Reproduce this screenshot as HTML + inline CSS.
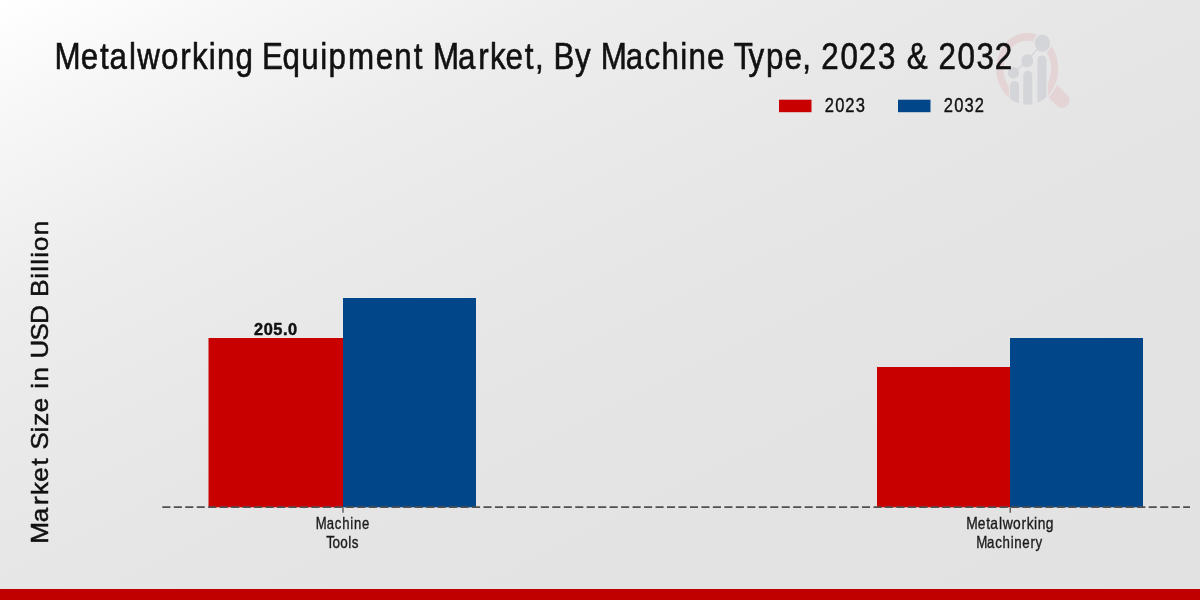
<!DOCTYPE html>
<html>
<head>
<meta charset="utf-8">
<style>
html,body{margin:0;padding:0;width:1200px;height:600px;overflow:hidden;background:#e8e8e8;}
svg{display:block;position:absolute;left:0;top:0;will-change:transform;}
text{font-family:"Liberation Sans",sans-serif;}
</style>
</head>
<body>
<svg width="1200" height="600" viewBox="0 0 1200 600">
  <defs>
    <linearGradient id="bg" gradientUnits="userSpaceOnUse" x1="0" y1="0" x2="480" y2="960">
      <stop offset="0" stop-color="rgb(255,255,255)"/>
      <stop offset="0.05" stop-color="rgb(250.8,250.8,250.8)"/>
      <stop offset="0.1" stop-color="rgb(246.7,246.7,246.7)"/>
      <stop offset="0.175" stop-color="rgb(241.8,241.8,241.8)"/>
      <stop offset="0.25" stop-color="rgb(237.3,237.3,237.3)"/>
      <stop offset="0.375" stop-color="rgb(233.1,233.1,233.1)"/>
      <stop offset="0.5" stop-color="rgb(230.0,230.0,230.0)"/>
      <stop offset="0.625" stop-color="rgb(228.3,228.3,228.3)"/>
      <stop offset="0.75" stop-color="rgb(227.1,227.1,227.1)"/>
      <stop offset="1.0" stop-color="rgb(226.0,226.0,226.0)"/>
    </linearGradient>
    <clipPath id="lc"><ellipse cx="1027.3" cy="68.7" rx="31.06" ry="36"/></clipPath>
  </defs>
  <rect x="0" y="0" width="1200" height="600" fill="url(#bg)"/>

  <!-- watermark logo -->
  <g>
    <line x1="1040" y1="78.3" x2="1062.2" y2="100.5" stroke="#e4d4d6" stroke-width="15" stroke-linecap="round"/>
    <ellipse cx="1027.3" cy="68.7" rx="32.6" ry="37.8" fill="url(#bg)"/>
    <path fill="#e4d4d6" fill-rule="evenodd" d="M996.24,68.7 a31.06,36 0 1 0 62.12,0 a31.06,36 0 1 0 -62.12,0 Z M1003.5,68.7 a23.8,28 0 1 0 47.6,0 a23.8,28 0 1 0 -47.6,0 Z"/>
    <rect x="1009" y="84" width="38.8" height="30" fill="url(#bg)"/>
    <ellipse cx="1042.4" cy="43.2" rx="9.2" ry="10.2" fill="url(#bg)"/>
    <g fill="#d4d5d9" clip-path="url(#lc)">
      <path d="M1010,120 V85.5 a4.5,4.5 0 0 1 9,0 V120 Z"/>
      <path d="M1023.3,120 V75.3 a4.5,4.5 0 0 1 9,0 V120 Z"/>
      <path d="M1037.4,120 V59.9 a4.5,4.5 0 0 1 9,0 V120 Z"/>
    </g>
    <g fill="#d4d5d9">
      <ellipse cx="1013.4" cy="72.9" rx="5.6" ry="5.8"/>
      <ellipse cx="1027.25" cy="60.75" rx="5.95" ry="6.55"/>
      <ellipse cx="1042.4" cy="43.2" rx="7.6" ry="8.6"/>
    </g>
    <polyline points="1013.4,72.9 1027.25,60.75 1042.4,43.2" fill="none" stroke="#d4d5d9" stroke-width="1.2"/>
  </g>

  <!-- title -->
  <text transform="translate(54.62,68.8) scale(0.8467,1)" x="0.00 31.00 53.58 64.76 87.82 97.69 125.76 148.42 162.22 182.09 191.89 213.77 235.76 245.03 269.11 291.41 313.61 323.57 346.43 379.29 401.12 424.02 436.51 446.87 476.44 500.44 514.25 532.63 555.22 567.35 578.82 589.09 614.56 634.57 644.93 674.49 696.75 716.82 738.92 748.72 770.54 791.92 801.99 819.59 840.20 861.89 882.91 894.37 905.42 928.11 949.88 972.61 994.39 1006.56 1032.74 1043.78 1066.47 1088.75 1110.47" y="0" font-size="37" fill="#111" stroke="#111" stroke-width="0.6">Metalworking Equipment Market, By Machine Type, 2023 &amp; 2032</text>

  <!-- legend -->
  <rect x="779" y="99.7" width="32.5" height="12.5" fill="#c80000"/>
  <text transform="translate(824.74,112) scale(0.8271,1)" x="0.00 12.67 24.83 37.53" y="0" font-size="20" fill="#111" stroke="#111" stroke-width="0.4">2023</text>
  <rect x="898" y="99.7" width="32.5" height="12.5" fill="#02468a"/>
  <text transform="translate(943.84,112) scale(0.8276,1)" x="0.00 12.67 25.11 37.25" y="0" font-size="20" fill="#111" stroke="#111" stroke-width="0.4">2032</text>

  <!-- y axis label -->
  <text transform="translate(47.5,543.39) rotate(-90) scale(1.1016,1)" x="0.00 19.25 34.86 43.95 55.96 70.63 78.80 85.23 100.76 106.76 119.06 132.94 140.41 146.93 161.02 167.78 184.16 199.47 217.07 223.93 240.21 246.54 252.89 259.24 265.47 279.74" y="0" font-size="23.5" fill="#111" stroke="#111" stroke-width="0.5">Market Size in USD Billion</text>

  <!-- bars -->
  <rect x="208.5" y="338" width="134.5" height="169.3" fill="#c80000"/>
  <rect x="343" y="298" width="133" height="209.3" fill="#02468a"/>
  <rect x="877" y="367" width="133" height="140.3" fill="#c80000"/>
  <rect x="1010" y="338" width="133" height="169.3" fill="#02468a"/>

  <!-- dashed baseline -->
  <line x1="162.3" y1="507.1" x2="1190" y2="507.1" stroke="#505050" stroke-width="1.6" stroke-dasharray="8.1 3.37"/>
  <line x1="343" y1="507.5" x2="343" y2="512.8" stroke="#444" stroke-width="1.2"/>
  <line x1="1010.2" y1="507.5" x2="1010.2" y2="512.8" stroke="#444" stroke-width="1.2"/>

  <!-- value label -->
  <text transform="translate(254.05,335.1) scale(1.0471,1)" x="0.00 9.18 18.35 27.59 32.50" y="0" font-size="15.6" font-weight="bold" fill="#111" stroke="#111" stroke-width="0.45">205.0</text>

  <!-- category labels -->
  <text transform="translate(315.83,528.8) scale(0.8055,1)" x="0.00 13.46 23.63 32.84 42.85 47.45 57.44" y="0" font-size="16.3" fill="#1a1a1a" stroke="#1a1a1a" stroke-width="0.35">Machine</text>
  <text transform="translate(326.36,548) scale(0.8287,1)" x="0.00 7.32 16.85 26.49 30.56" y="0" font-size="16.3" fill="#1a1a1a" stroke="#1a1a1a" stroke-width="0.35">Tools</text>
  <text transform="translate(966.28,528.75) scale(0.8479,1)" x="0.00 13.61 23.53 28.43 38.56 42.88 55.20 65.15 71.20 79.93 84.23 93.83" y="0" font-size="16.3" fill="#1a1a1a" stroke="#1a1a1a" stroke-width="0.35">Metalworking</text>
  <text transform="translate(976.31,547.9) scale(0.8184,1)" x="0.00 13.19 23.13 32.11 41.95 46.38 56.13 66.24 72.40" y="0" font-size="16.3" fill="#1a1a1a" stroke="#1a1a1a" stroke-width="0.35">Machinery</text>

  <!-- bottom band -->
  <rect x="0" y="589" width="1200" height="11" fill="#c00000"/>
</svg>
</body>
</html>
